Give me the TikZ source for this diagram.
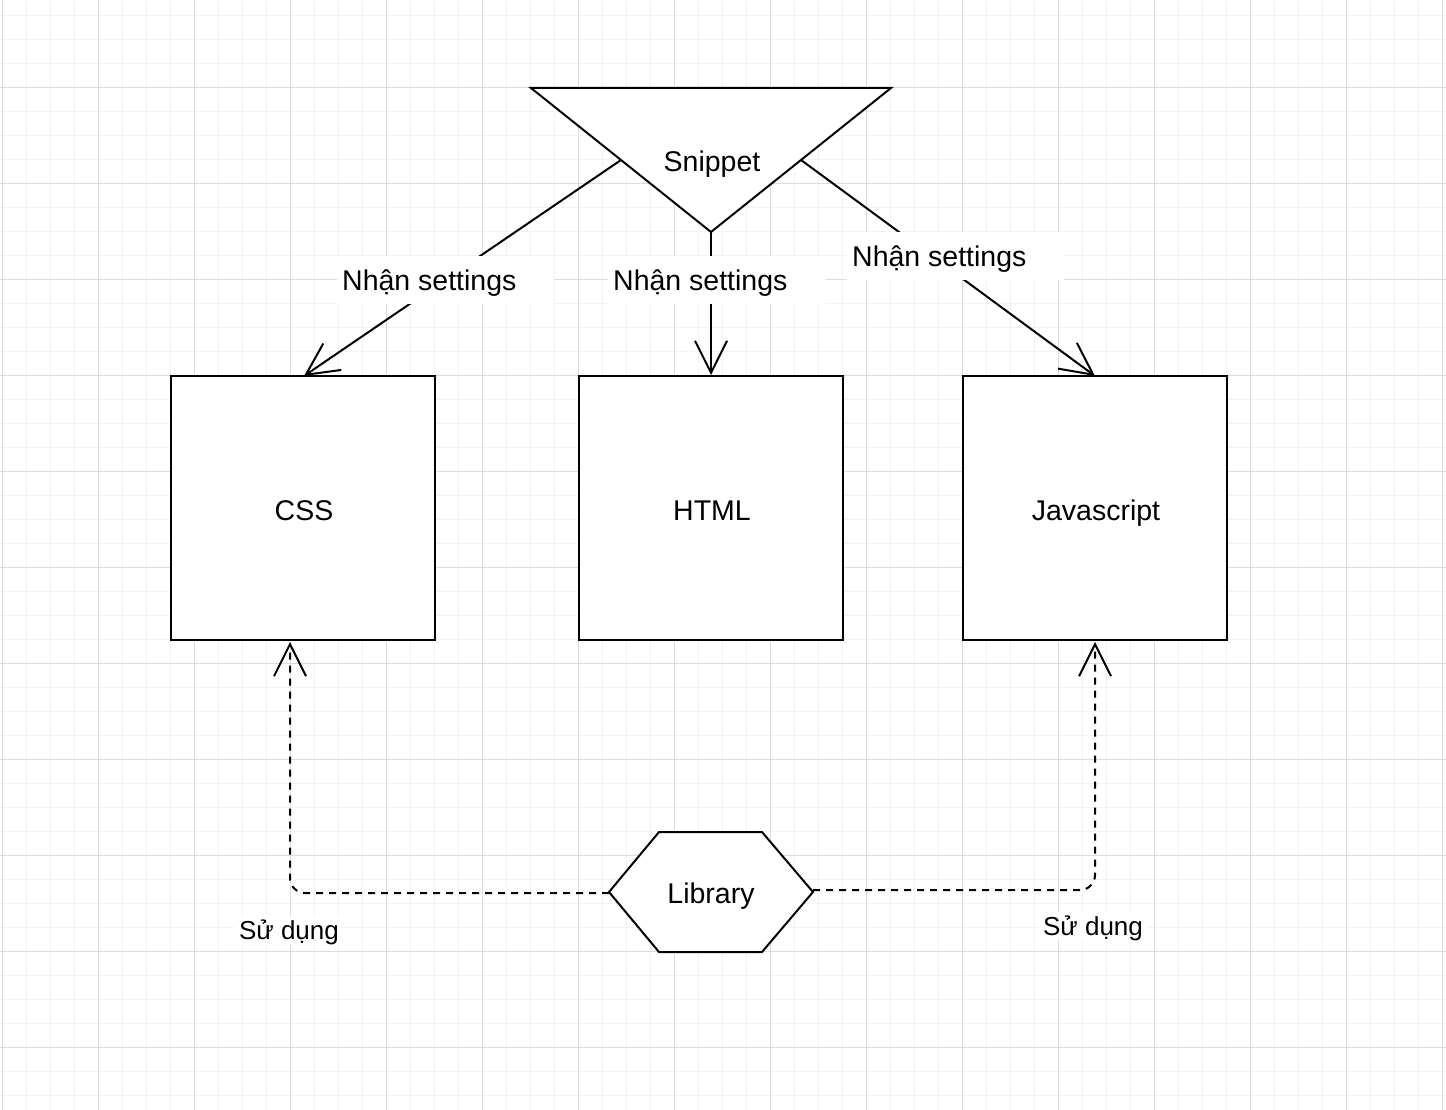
\documentclass[tikz,border=0pt]{standalone}
\usepackage{fontspec}
\setmainfont{Liberation Sans}
\usetikzlibrary{arrows.meta}
\definecolor{gridminor}{HTML}{F3F3F3}
\definecolor{gridmajor}{HTML}{DCDCDC}
\tikzset{
  bigfont/.style={font=\fontsize{28.5}{34}\selectfont, text height=20.5pt, text depth=0pt},
  shapeline/.style={draw=black, line width=2pt, line join=miter},
  boxnode/.style={shapeline, fill=white, minimum width=264pt, minimum height=264pt, inner sep=0pt, bigfont},
  txt/.style={bigfont, inner sep=0pt},
  conn/.style={draw=black, line width=2pt, -{Straight Barb[length=32pt, width=32pt]}},
  dconn/.style={conn, dash pattern=on 7pt off 6pt, rounded corners=15pt},
  setlbl/.style={fill=white, bigfont, anchor=west, inner xsep=5pt,
    inner ysep=0pt, minimum height=48pt},
  uselbl/.style={fill=white, font=\fontsize{26}{31}\selectfont, text height=18.5pt, text depth=0pt, inner sep=5pt},
}
\begin{document}
\begin{tikzpicture}[x=1pt, y=-1pt]
\useasboundingbox (0,0) rectangle (1446,1110);
\fill[white] (0,0) rectangle (1446,1110);
% grid
\foreach \i in {0,...,60} \draw[gridminor, line width=1.5pt] (2.3+24*\i,0) -- (2.3+24*\i,1110);
\foreach \j in {0,...,45} \draw[gridminor, line width=1.5pt] (0,15.3+24*\j) -- (1446,15.3+24*\j);
\foreach \i in {0,...,15} \draw[gridmajor, line width=1pt] (2.3+96*\i,0) -- (2.3+96*\i,1110);
\foreach \j in {0,...,11} \draw[gridmajor, line width=1pt] (0,-8.7+96*\j) -- (1446,-8.7+96*\j);

% Snippet (inverted triangle)
\draw[shapeline, fill=white] (531,88) -- (891,88) -- (711,232) -- cycle;
\node[txt] (snippet) at (712,161) {Snippet};
\coordinate (snL) at (621,160);
\coordinate (snB) at (711,232);
\coordinate (snR) at (801,160);

% boxes
\node[boxnode] (css) at (303,508) {};
\node[boxnode] (html) at (711,508) {};
\node[boxnode] (js) at (1095,508) {};
\node[txt] (csst) at (304,510) {CSS};
\node[txt] (htmlt) at (712,510) {HTML};
\node[txt] (jst) at (1096,510) {Javascript};
\coordinate (cssT) at (304,376);
\coordinate (jsT) at (1095,376);
\coordinate (cssB) at (290,642);
\coordinate (jsB) at (1095,642);

% Library hexagon
\draw[shapeline, fill=white] (609,892) -- (659,832) -- (762,832) -- (813,892) -- (762,952) -- (659,952) -- cycle;
\node[txt] (lib) at (711,893) {Library};
\coordinate (libL) at (609,893);
\coordinate (libR) at (813,890);

% connectors
\draw[conn] (snL) -- (cssT);
\draw[conn] (snB) -- (html.north);
\draw[conn] (snR) -- (jsT);
\node[setlbl] (l1) at (337,280) {Nhận settings\kern33pt};
\node[setlbl] (l2) at (608,280) {Nhận settings\kern33pt};
\node[setlbl] (l3) at (847,256) {Nhận settings\kern33pt};

\draw[dconn] (libL) -| (cssB);
\draw[dconn] (libR) -| (jsB);
\node[uselbl] (u1) at (289,930) {Sử dụng};
\node[uselbl] (u2) at (1093,926) {Sử dụng};
\end{tikzpicture}
\end{document}
